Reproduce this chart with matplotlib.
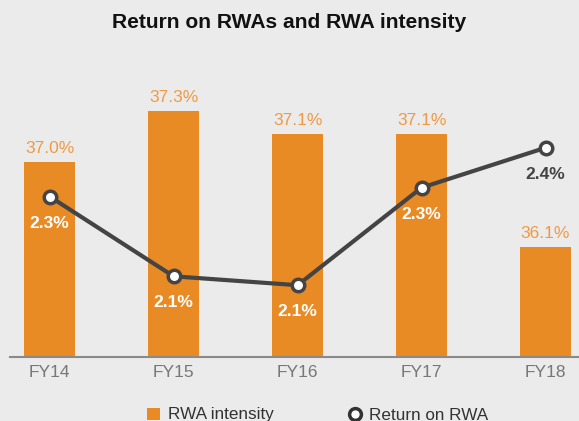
import matplotlib
matplotlib.use('Agg')
import matplotlib.pyplot as plt
from matplotlib.lines import Line2D
from matplotlib.patches import Patch

plt.rcParams['font.family'] = ['Liberation Sans', 'DejaVu Sans']

# data
years = ['FY14', 'FY15', 'FY16', 'FY17', 'FY18']
rwa_intensity = [36.85, 37.30, 37.10, 37.10, 36.10]   # bar heights
rwa_labels = ['37.0%', '37.3%', '37.1%', '37.1%', '36.1%']
return_on_rwa = [2.29, 2.11, 2.09, 2.31, 2.40]       # line values
ret_labels = ['2.3%', '2.1%', '2.1%', '2.3%', '2.4%']

orange = '#E98B25'
dark = '#444444'
bg = '#EBEBEB'

W, H = 579, 421
fig = plt.figure(figsize=(W / 100, H / 100), dpi=100, facecolor=bg)
# axes placed in pixel terms: left 10, right 579, bottom y=357, top y=60
ax = fig.add_axes([10 / W, 1 - 357 / H, (W - 10) / W, (357 - 60) / H])
ax.set_facecolor(bg)

x = range(len(years))
ax.bar(x, rwa_intensity, width=0.41, color=orange, zorder=2)
ax.set_xlim(-0.32, 4.27)
ax.set_ylim(35.13, 37.75)
for i, v in enumerate(rwa_labels):
    ax.text(i, rwa_intensity[i] + 0.05, v, ha='center', va='bottom',
            color='#EE9A45', fontsize=12.5)

ax.set_yticks([])
ax.set_xticks(list(x))
ax.set_xticklabels(years, fontsize=12.5, color='#777777')
ax.tick_params(axis='x', length=0, pad=6)
for s in ['top', 'right', 'left']:
    ax.spines[s].set_visible(False)
ax.spines['bottom'].set_color('#8A8A8A')
ax.spines['bottom'].set_linewidth(1.5)

ax2 = ax.twinx()
ax2.set_ylim(1.928, 2.598)
ax2.plot(x, return_on_rwa, color=dark, linewidth=3, marker='o', markersize=9,
         markerfacecolor='white', markeredgecolor=dark, markeredgewidth=2.5, zorder=3)
for i, v in enumerate(return_on_rwa):
    c = dark if i == 4 else 'white'
    ax2.text(i, v - 0.043, ret_labels[i], ha='center', va='top',
             color=c, fontsize=12.5, fontweight='bold')
ax2.set_yticks([])
for s in ax2.spines.values():
    s.set_visible(False)

fig.text(0.5, 1 - 22 / H, 'Return on RWAs and RWA intensity', ha='center',
         va='center', fontsize=15.1, fontweight='bold', color='#111111')

handles = [Patch(facecolor=orange, edgecolor='none'),
           Line2D([], [], color='none', marker='o', markersize=8.5,
                  markerfacecolor='white', markeredgecolor='#333333', markeredgewidth=2.5)]
fig.legend(handles, ['RWA intensity', 'Return on RWA'], loc='center',
           bbox_to_anchor=(318 / W, 1 - 415 / H), ncol=2, frameon=False,
           fontsize=12.3, columnspacing=4.4, handlelength=0.75, handletextpad=0.45,
           labelcolor='#333333')

fig.savefig('out.png', dpi=100, facecolor=bg)
